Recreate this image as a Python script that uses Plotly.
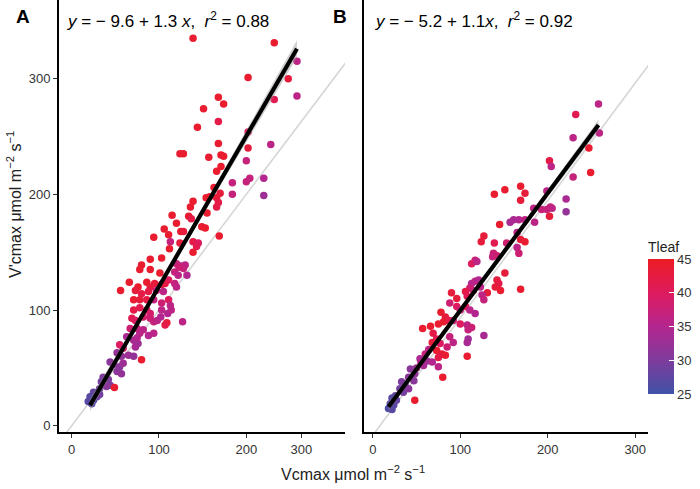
import numpy as np
import plotly.graph_objects as go

# ---------------- data ----------------
# Panel A: Vcmax (x), V'cmax (y), Tleaf (colour)
a_x = [139,232,258,202,248,232,258,168,174,151,168,144,202,168,202,228,124,128,157,171,174,171,200,166,204,200,220,184,184,220,163,170,154,158,166,168,139,136,166,115,155,
       134,137,120,149,153,106,111,125,128,169,94,113,124,139,145,143,112,139,90,103,80,78,90,101,120,125,130,128,123,118,122,132,111,107,95,103,118,120,66,76,86,90,56,73,80,88,97,105,
       71,78,86,94,103,111,113,71,78,86,90,103,110,114,69,73,82,90,94,109,107,127,98,102,67,75,82,78,88,94,63,71,76,75,55,59,73,80,52,57,65,71,44,48,55,59,52,57,36,42,34,44,40,32,49,25,29,21,25,19,23,29,32]
a_y = [335,331,315,301,300,282,285,284,278,274,263,258,254,244,240,243,235,235,232,234,233,224,229,220,214,211,214,210,200,199,206,201,197,198,197,193,194,189,189,182,184,
       181,179,175,172,171,170,165,168,168,164,163,159,158,159,158,155,153,150,144,145,139,135,135,132,140,138,139,136,137,133,130,130,126,123,123,122,123,120,124,120,124,120,117,117,114,116,117,116,
       109,109,109,109,106,109,104,100,102,100,97,100,97,100,93,91,94,93,90,89,87,90,91,94,84,84,83,80,78,80,77,74,71,76,70,67,68,57,63,60,61,60,55,53,51,54,47,45,42,40,38,35,34,32,33,29,28,25,22,21,19,25,27]
a_t = [44,44,36,44,43,41,36,44,44,44,42,44,40,44,43,36,44,44,44,44,44,44,37,44,37,37,35,37,37,33,44,43,44,44,43,42,44,44,42,44,44,
       44,42,44,44,44,44,44,44,43,44,44,37,43,42,40,41,44,44,44,44,44,44,44,44,37,36,36,37,38,37,36,35,40,42,43,43,37,36,44,44,44,43,44,43,42,42,37,36,
       44,43,42,37,38,40,36,42,41,40,39,36,35,36,41,40,39,38,37,43,42,36,36,35,38,37,36,36,35,36,34,34,33,35,40,39,34,44,32,32,33,32,31,31,31,33,31,32,30,30,29,30,31,29,44,28,28,27,27,27,27,28,29]

# Panel B
b_x = [258,232,229,259,247,229,249,202,204,199,221,221,203,205,199,202,184,193,185,139,151,169,174,169,161,167,157,145,174,127,124,139,153,165,169,174,165,167,138,137,142,117,113,119,
       151,169,142,144,140,131,113,117,121,123,115,111,146,90,96,106,108,125,127,88,96,100,106,111,117,78,83,81,87,75,92,100,108,113,109,57,66,69,73,68,77,88,92,85,109,108,127,
       73,79,83,75,108,54,62,68,58,75,80,43,48,41,47,33,37,31,35,41,48,26,22,20,24,27,18,22,60,64,50,55]
b_y = [278,269,249,253,240,215,219,229,224,203,196,185,189,188,187,181,188,187,176,200,204,207,201,195,178,178,176,174,178,164,159,158,158,167,161,159,154,149,149,146,147,143,140,142,
       132,118,126,123,120,115,123,125,126,120,117,119,117,115,110,116,112,113,109,106,103,100,103,100,97,98,94,90,91,88,91,88,87,85,83,84,86,80,75,72,71,77,72,68,75,72,78,
       65,62,61,59,60,58,56,55,52,51,42,49,45,42,39,38,35,32,29,32,22,26,24,19,18,22,15,14,62,66,50,55]
b_t = [36,41,36,36,44,37,44,42,36,36,34,32,37,36,37,43,36,37,36,44,44,44,43,43,34,35,34,44,36,43,43,41,38,36,43,44,36,38,38,37,38,38,40,36,
       43,44,43,42,43,43,35,36,35,36,37,38,44,43,43,42,41,36,37,38,40,37,41,36,35,44,43,44,42,44,37,40,36,38,37,44,44,42,41,43,40,37,36,38,33,34,34,
       44,43,44,42,44,34,33,35,34,36,44,31,32,31,31,30,30,29,29,31,44,28,27,27,27,28,26,27,37,36,33,35]

# fitted lines (intercept, slope, x-extent) and reference lines
fit_a = (-9.6, 1.3, 21, 258)
fit_b = (-1.75, 1.014, 18, 258)
ref_a = (0.0, 1.0)
ref_b = (-8.3, 1.015)

eq_a = "<i>y</i> = − 9.6 + 1.3 <i>x</i>,  <i>r</i><sup>2</sup> = 0.88"
eq_b = "<i>y</i> = − 5.2 + 1.1<i>x</i>,  <i>r</i><sup>2</sup> = 0.92"

x_ticks_a = [0, 100, 200, 263]
x_ticktext = ["0", "100", "200", "300"]
x_ticks_b = [0, 100, 200, 300]
y_ticks = [0, 100, 200, 300]
t_ticks = [25, 30, 35, 40, 45]

W, H = 700, 489
FONT = "Liberation Sans, Arial, sans-serif"
colorscale = [[0.0, "#4052A8"], [0.25, "#7E3C9C"], [0.5, "#B4268F"],
              [0.75, "#DE1B5E"], [1.0, "#EC1C24"]]

fig = go.Figure()


def band(xs, ys, fit):
    b0, b1, x0, x1 = fit
    xs = np.asarray(xs, float); ys = np.asarray(ys, float)
    n = len(xs)
    res = ys - (b0 + b1 * xs)
    s = np.sqrt(np.sum(res ** 2) / (n - 2))
    xm = xs.mean(); sxx = np.sum((xs - xm) ** 2)
    xg = np.linspace(x0, x1, 60)
    yg = b0 + b1 * xg
    hw = 1.0 * s * np.sqrt(1.0 / n + (xg - xm) ** 2 / sxx)
    return xg, yg, hw


for i, (xs, ys, ts, fit, ref) in enumerate([(a_x, a_y, a_t, fit_a, ref_a),
                                             (b_x, b_y, b_t, fit_b, ref_b)]):
    xa = "x" if i == 0 else "x2"
    ya = "y" if i == 0 else "y2"
    rx = np.array([-20, 330])
    fig.add_trace(go.Scatter(x=rx, y=ref[0] + ref[1] * rx, mode="lines",
                             line=dict(color="#D6D6D6", width=1.6),
                             xaxis=xa, yaxis=ya, showlegend=False, hoverinfo="skip"))
    fig.add_trace(go.Scatter(x=xs, y=ys, mode="markers",
                             marker=dict(size=7.5, color=ts, coloraxis="coloraxis",
                                         line=dict(width=0)),
                             xaxis=xa, yaxis=ya, showlegend=False))
    xg, yg, hw = band(xs, ys, fit)
    fig.add_trace(go.Scatter(x=np.concatenate([xg, xg[::-1]]),
                             y=np.concatenate([yg + hw, (yg - hw)[::-1]]),
                             fill="toself", fillcolor="rgba(150,150,150,0.45)",
                             line=dict(width=0), mode="lines",
                             xaxis=xa, yaxis=ya, showlegend=False, hoverinfo="skip"))
    fig.add_trace(go.Scatter(x=xg, y=yg, mode="lines",
                             line=dict(color="black", width=4.2),
                             xaxis=xa, yaxis=ya, showlegend=False, hoverinfo="skip"))

ydom = [1 - 432 / H, 1.0]
axis_common = dict(showline=True, linecolor="black", linewidth=2, showgrid=False,
                   zeroline=False, ticks="outside", ticklen=4, tickwidth=1.2,
                   tickcolor="#333333",
                   tickfont=dict(family=FONT, size=13, color="#333333"))


def ann(text, px, py, size, xanchor="center", yanchor="middle", angle=0,
        color="black"):
    return dict(text=text, x=px / W, y=1 - py / H, xref="paper", yref="paper",
                xanchor=xanchor, yanchor=yanchor, textangle=angle, showarrow=False,
                font=dict(family=FONT, size=size, color=color))


fig.update_layout(
    width=W, height=H, margin=dict(l=0, r=0, t=0, b=0, autoexpand=False),
    paper_bgcolor="white", plot_bgcolor="white",
    font=dict(family=FONT, color="#222222"),
    xaxis=dict(domain=[59 / W, 345 / W], range=[-14.5, 313], anchor="y",
               tickvals=x_ticks_a, ticktext=x_ticktext, **axis_common),
    yaxis=dict(domain=ydom, range=[-5.4, 368], anchor="x",
               tickvals=y_ticks, **axis_common),
    xaxis2=dict(domain=[364 / W, 648 / W], range=[-10, 314.6], anchor="y2",
                tickvals=x_ticks_b, **axis_common),
    yaxis2=dict(domain=ydom, range=[-5.4, 368], anchor="x2",
                showline=True, linecolor="black", linewidth=2, showgrid=False,
                zeroline=False, showticklabels=False, ticks=""),
    coloraxis=dict(cmin=25, cmax=45, colorscale=colorscale,
                   colorbar=dict(x=648 / W, xanchor="left", y=1 - 394 / H,
                                 yanchor="bottom", len=156, lenmode="pixels",
                                 thickness=26, outlinewidth=0, xpad=0, ypad=0,
                                 tickvals=t_ticks, ticks="inside", tickcolor="white",
                                 ticklen=5, tickwidth=1,
                                 tickfont=dict(family=FONT, size=13, color="#333333"),
                                 title=dict(text="Tleaf", side="top",
                                            font=dict(family=FONT, size=14, color="#222222")))),
    annotations=[
        ann("<b>A</b>", 23, 17, 19),
        ann("<b>B</b>", 340, 17, 19),
        ann(eq_a, 65, 20, 17, xanchor="left"),
        ann(eq_b, 373, 20, 17, xanchor="left"),
        ann("Vcmax μmol m<sup>−2</sup> s<sup>−1</sup>", 353, 473, 16, color="#222222"),
        ann("V'cmax μmol m<sup>−2</sup> s<sup>−1</sup>", 14, 205, 16, angle=-90,
            color="#222222"),
    ],
)

fig.write_html("out.html", config={"displayModeBar": False},
               post_script="document.body.style.margin='0px';")
